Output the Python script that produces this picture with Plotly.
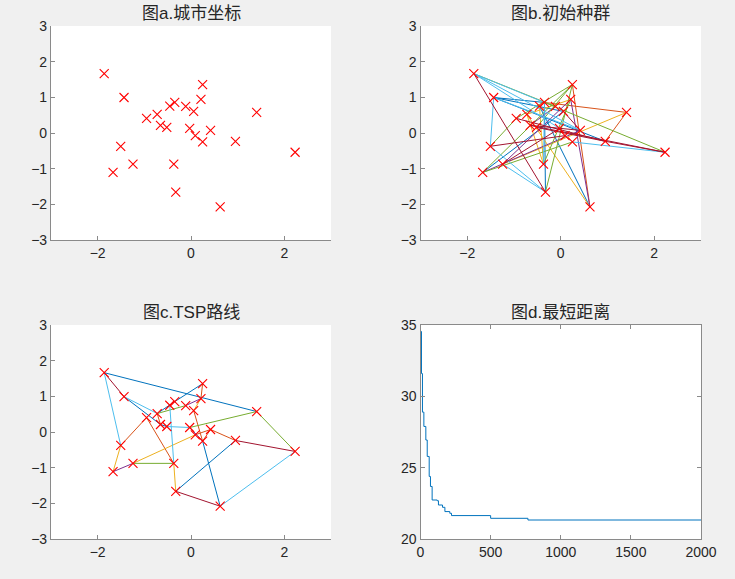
import plotly.graph_objects as go

# ---------------- data ----------------
city_x = [-1.86, -1.435, 0.249, 0.213, -0.455, -0.348, -0.114, 0.057, -0.952, -0.725,
          -0.654, -0.519, -0.028, 0.092, 0.249, 0.419, 0.952, 1.407, 2.231, -1.506,
          -1.243, -1.670, -0.369, -0.327, 0.625]
city_y = [1.665, 0.995, 1.358, 0.94, 0.753, 0.856, 0.744, 0.605, 0.409, 0.521,
          0.214, 0.158, 0.130, -0.074, -0.251, 0.074, -0.233, 0.577, -0.540, -0.372,
          -0.874, -1.107, -0.874, -1.656, -2.074]

# initial population edges (city a, city b, colour index)
init_edges = [
    (1, 6, 5), (1, 7, 4), (1, 24, 6), (1, 16, 5),
    (2, 6, 0), (2, 8, 0), (2, 17, 0), (2, 20, 5), (2, 16, 5),
    (3, 9, 4), (3, 22, 4), (3, 24, 4), (3, 25, 1), (3, 12, 4),
    (4, 25, 3), (4, 10, 2), (4, 21, 3), (4, 23, 4),
    (5, 23, 2), (6, 24, 0), (6, 23, 5), (6, 18, 1), (6, 19, 4),
    (7, 11, 3), (8, 16, 6), (10, 25, 2), (11, 19, 6), (11, 16, 6),
    (12, 17, 6), (14, 20, 6), (15, 19, 5), (15, 22, 4), (16, 22, 3),
    (17, 19, 6), (17, 18, 1), (17, 9, 6), (18, 21, 2), (20, 24, 5),
    (21, 24, 5), (21, 13, 6), (22, 8, 0), (5, 25, 0), (9, 20, 4),
    (23, 10, 2), (13, 1, 5),
]

# best route edges (city a, city b, colour index)
route_edges = [
    (1, 18, 0), (18, 19, 4), (19, 25, 5), (19, 17, 6), (25, 24, 6),
    (24, 17, 0), (25, 15, 0), (17, 16, 1), (24, 23, 2), (23, 21, 4),
    (21, 22, 3), (22, 20, 2), (20, 9, 1), (23, 5, 5), (9, 23, 1),
    (1, 20, 5), (1, 2, 6), (2, 10, 5), (2, 11, 0), (11, 12, 0),
    (10, 7, 4), (10, 11, 1), (3, 6, 0), (6, 10, 0), (3, 4, 1),
    (4, 7, 3), (4, 8, 2), (8, 15, 1), (12, 13, 5), (13, 18, 4),
    (13, 15, 3), (21, 14, 2), (14, 16, 1), (16, 15, 1),
]

# shortest distance per generation (step breakpoints)
gen = [0, 7, 14, 24, 38, 48, 62, 71, 83, 119, 128, 157, 174, 209, 221, 500, 766, 2000]
best_dist = [34.55, 31.6, 28.9, 27.9, 26.95, 25.8, 24.4, 23.7, 22.75, 22.7, 22.4,
             22.24, 21.94, 21.82, 21.66, 21.47, 21.35, 21.35]

titles = ["图a.城市坐标", "图b.初始种群", "图c.TSP路线", "图d.最短距离"]
xy_ticks = [-3, -2, -1, 0, 1, 2, 3]
x_tick_vals = [-2, 0, 2]
d_x_ticks = [0, 500, 1000, 1500, 2000]
d_y_ticks = [20, 25, 30, 35]

colors = ["#0072BD", "#D95319", "#EDB120", "#7E2F8E", "#77AC30", "#4DBEEE", "#A2142F"]

# ---------------- figure ----------------
W, H = 735, 579
fig = go.Figure()

def edge_traces(edges, xa, ya):
    for ci, col in enumerate(colors):
        xs, ys = [], []
        for a, b, c in edges:
            if c == ci:
                xs += [city_x[a - 1], city_x[b - 1], None]
                ys += [city_y[a - 1], city_y[b - 1], None]
        if xs:
            fig.add_trace(go.Scatter(x=xs, y=ys, mode="lines", xaxis=xa, yaxis=ya,
                                     line=dict(color=col, width=1), showlegend=False,
                                     hoverinfo="skip"))

def cities(xa, ya):
    fig.add_trace(go.Scatter(x=city_x, y=city_y, mode="markers", xaxis=xa, yaxis=ya,
                             marker=dict(symbol="x-thin", size=9, color="#FF0000",
                                         line=dict(color="#FF0000", width=1.1)),
                             showlegend=False))

cities("x", "y")
edge_traces(init_edges, "x2", "y2")
cities("x2", "y2")
edge_traces(route_edges, "x3", "y3")
cities("x3", "y3")
fig.add_trace(go.Scatter(x=gen, y=best_dist, mode="lines", xaxis="x4", yaxis="y4",
                         line=dict(color="#0072BD", width=1, shape="hv"), showlegend=False))

# panel pixel boxes: left, right, top, bottom
boxes = [(51, 331, 26, 240), (420.5, 701, 26, 240), (51, 331, 325, 539.3), (420.5, 701, 325, 539.3)]
font = "Liberation Sans, Arial, Noto Sans CJK SC, sans-serif"
axcol = "#8a8a8a"
layout = dict(template="none", width=W, height=H, autosize=False,
              margin=dict(l=0, r=0, t=0, b=0, pad=0, autoexpand=False),
              paper_bgcolor="#F0F0F0", plot_bgcolor="#FFFFFF",
              font=dict(family=font, size=14, color="#262626"), showlegend=False)

for i, (l, r, t, b) in enumerate(boxes):
    sx = "" if i == 0 else str(i + 1)
    dom_x = [l / W, r / W]
    dom_y = [1 - b / H, 1 - t / H]
    box = (i == 3)
    common = dict(showline=True, linecolor=axcol, linewidth=1.2, ticks="inside", ticklen=4,
                  tickcolor=axcol, showgrid=False, zeroline=False, automargin=False,
                  mirror="ticks" if box else False,
                  tickfont=dict(size=14, color="#262626", family=font))
    if i < 3:
        xa = dict(domain=dom_x, range=[-3, 3], tickvals=x_tick_vals, anchor="y" + sx, **common)
        ya = dict(domain=dom_y, range=[-3, 3], tickvals=xy_ticks, anchor="x" + sx, **common)
    else:
        xa = dict(domain=dom_x, range=[0, 2000], tickvals=d_x_ticks, anchor="y" + sx, **common)
        ya = dict(domain=dom_y, range=[20, 35], tickvals=d_y_ticks, anchor="x" + sx, **common)
    layout["xaxis" + sx] = xa
    layout["yaxis" + sx] = ya

fig.update_layout(**layout)

for i, (l, r, t, b) in enumerate(boxes):
    fig.add_annotation(x=(l + r) / 2 / W, y=1 - (t - 13) / H, xref="paper", yref="paper",
                       text=titles[i], showarrow=False, yanchor="middle", xanchor="center",
                       font=dict(size=17, color="#262626", family=font))

fig.write_html("out.html",
               config={"responsive": False, "displayModeBar": False},
               post_script="document.body.style.margin='0';document.body.style.overflow='hidden';")
